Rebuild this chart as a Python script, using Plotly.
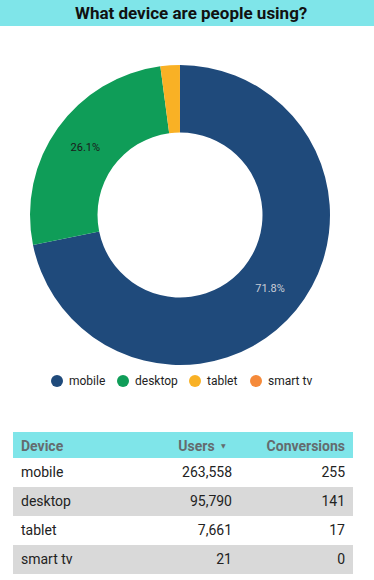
import plotly.graph_objects as go

devices = ["mobile", "desktop", "tablet", "smart tv"]
users = [263558, 95790, 7661, 21]
conversions = [255, 141, 17, 0]
headers = ["Device", "Users", "Conversions"]
colors = ["#1f4a7b", "#0f9d58", "#f9b125", "#f58a3a"]
legend_x = [57, 123, 195, 256]

W, H = 374, 580
NB = "\u00a0"
def py(p):
    return 1 - p / H

fig = go.Figure()

fig.add_trace(go.Pie(
    labels=devices, values=users, hole=0.55, sort=False, direction="clockwise", rotation=0,
    marker=dict(colors=colors, line=dict(width=0)),
    texttemplate=["%{percent:.1%}", "%{percent:.1%}", "", ""],
    textposition="inside", insidetextorientation="horizontal",
    textfont=dict(family="Roboto", size=11, color=["#c9cdd6", "#1a1a1a", "#1a1a1a", "#1a1a1a"]),
    showlegend=False, hoverinfo="label+value+percent",
    domain=dict(x=[30 / W, 330 / W], y=[py(365), py(65)]),
))

# custom legend with circle markers
for d, c, lx in zip(devices, colors, legend_x):
    fig.add_shape(type="circle", xref="paper", yref="paper",
                  x0=(lx - 6) / W, x1=(lx + 6) / W, y0=py(387), y1=py(375),
                  fillcolor=c, line=dict(width=0))
    fig.add_annotation(text=d, xref="paper", yref="paper", x=(lx + 10) / W, y=py(381),
                       xanchor="left", yanchor="middle", showarrow=False,
                       font=dict(family="Roboto", size=12, color="#222222"))

header_text = [headers[0], headers[1] + NB * 5, headers[2]]
fig.add_trace(go.Table(
    domain=dict(x=[13 / W, 353 / W], y=[0, py(432)]),
    columnwidth=[137, 90, 113],
    header=dict(
        values=header_text,
        align=["left", "right", "right"], height=26,
        fill_color="#7fe5e9", line=dict(color="#7fe5e9", width=0),
        font=dict(family="Roboto", size=14, color="#646b6e", weight="bold"),
    ),
    cells=dict(
        values=[[d.replace(" ", NB) for d in devices], [f"{u:,}" for u in users],
                [str(c) for c in conversions]],
        align=["left", "right", "right"], height=29,
        fill_color=[["#ffffff", "#d9d9d9", "#ffffff", "#d9d9d9"]],
        line=dict(color=[["#ffffff", "#d9d9d9", "#ffffff", "#d9d9d9"]], width=0),
        font=dict(family="Roboto", size=14, color="#222222"),
    ),
))

# sort indicator next to "Users" header
fig.add_annotation(text="▼", xref="paper", yref="paper", x=223 / W, y=py(445),
                   xanchor="center", yanchor="middle", showarrow=False,
                   font=dict(family="DejaVu Sans", size=6, color="#646b6e"))

fig.add_shape(type="rect", xref="paper", yref="paper", x0=0, x1=1, y0=py(26), y1=1,
              fillcolor="#7fe5e9", line=dict(width=0), layer="below")
fig.add_annotation(text="<b>What device are people using?</b>", xref="paper", yref="paper",
                   x=191 / W, y=py(13), showarrow=False, xanchor="center", yanchor="middle",
                   font=dict(family="Roboto", size=17, color="#111111"))

fig.update_layout(
    width=W, height=H, margin=dict(l=0, r=0, t=0, b=0),
    paper_bgcolor="white", plot_bgcolor="white", showlegend=False,
)

fig.write_html("out.html", config={"displayModeBar": False},
               post_script="document.body.style.margin='0px';document.body.style.overflow='hidden';")
